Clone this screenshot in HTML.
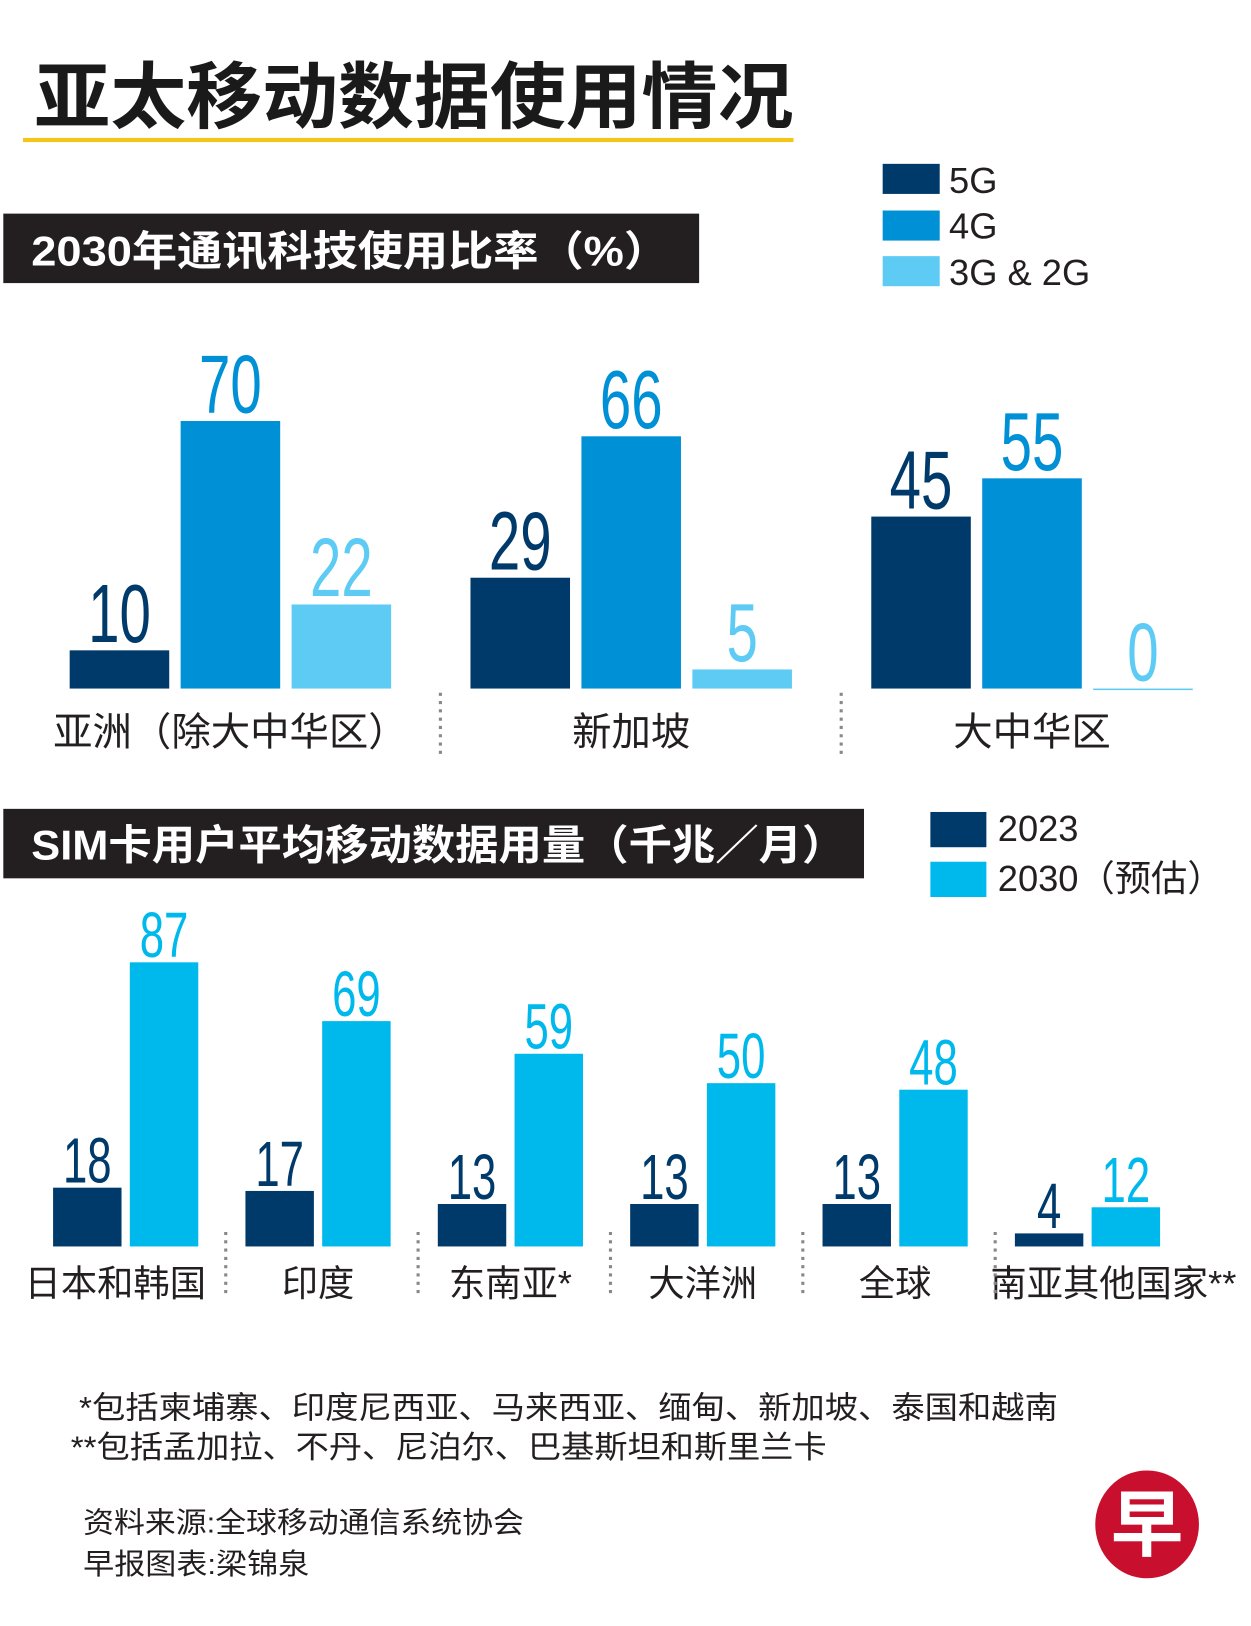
<!DOCTYPE html>
<html><head><meta charset="utf-8"><style>
html,body{margin:0;padding:0;background:#fff;}
svg{display:block;}
.cn{font-family:"Liberation Sans","Noto Sans CJK SC",sans-serif;}
.num{font-family:"Liberation Sans",sans-serif;}
</style></head><body>
<svg id="s" width="1251" height="1626" viewBox="0 0 1206 1568" xmlns="http://www.w3.org/2000/svg">
<rect width="1206" height="1568" fill="#fff"/>
<text x="33" y="118" class="cn" font-size="70" font-weight="bold" fill="#1a1a1a" textLength="732" lengthAdjust="spacingAndGlyphs">亚太移动数据使用情况</text>
<rect x="22" y="133" width="743" height="4" fill="#f5c518"/>
<rect x="3" y="206" width="671" height="67" fill="#231f20"/>
<text x="30" y="256" class="cn" font-size="40" font-weight="bold" fill="#fff" textLength="615" lengthAdjust="spacingAndGlyphs">2030年通讯科技使用比率（%）</text>
<g>
<rect x="851" y="158" width="55" height="29" fill="#003a6b"/>
<text x="915" y="186" class="cn" font-size="35" fill="#231f20">5G</text>
<rect x="851" y="203" width="55" height="29" fill="#0090d6"/>
<text x="915" y="230" class="cn" font-size="35" fill="#231f20">4G</text>
<rect x="851" y="247" width="55" height="29" fill="#5ecbf4"/>
<text x="915" y="275" class="cn" font-size="35" fill="#231f20">3G &amp; 2G</text>
</g>
<g id="c1"></g>
<rect x="3" y="780" width="830" height="67" fill="#231f20"/>
<text x="30" y="829" class="cn" font-size="40" font-weight="bold" fill="#fff" textLength="785" lengthAdjust="spacingAndGlyphs">SIM卡用户平均移动数据用量（千兆／月）</text>
<g>
<rect x="897" y="783" width="54" height="34" fill="#003a6b"/>
<text x="962" y="811" class="cn" font-size="35" fill="#231f20">2023</text>
<rect x="897" y="831" width="54" height="34" fill="#00b9ec"/>
<text x="962" y="859" class="cn" font-size="35" fill="#231f20">2030（预估）</text>
</g>
<g id="c2"></g>
<text x="76" y="1368" class="cn" font-size="30" fill="#231f20" textLength="944" lengthAdjust="spacingAndGlyphs">*包括柬埔寨、印度尼西亚、马来西亚、缅甸、新加坡、泰国和越南</text>
<text x="68" y="1406" class="cn" font-size="30" fill="#231f20" textLength="729" lengthAdjust="spacingAndGlyphs">**包括孟加拉、不丹、尼泊尔、巴基斯坦和斯里兰卡</text>
<text x="80" y="1478" class="cn" font-size="28" fill="#231f20" textLength="425" lengthAdjust="spacingAndGlyphs">资料来源:全球移动通信系统协会</text>
<text x="80" y="1518" class="cn" font-size="28" fill="#231f20" textLength="218" lengthAdjust="spacingAndGlyphs">早报图表:梁锦泉</text>
<g>
<ellipse cx="1106" cy="1470" rx="50" ry="52" fill="#c8102e"/>
<text x="1106" y="1495" text-anchor="middle" class="cn" font-size="70" font-weight="bold" fill="#fff">早</text>
</g>
</svg>
<script>
const NS='http://www.w3.org/2000/svg';
const c1Categories=['亚洲（除大中华区）','新加坡','大中华区'];
const c1Series5G=[10,29,45];
const c1Series4G=[70,66,55];
const c1Series3G=[22,5,0];
const c2Categories=['日本和韩国','印度','东南亚*','大洋洲','全球','南亚其他国家**'];
const c2Series2023=[18,17,13,13,13,4];
const c2Series2030=[87,69,59,50,48,12];

function mk(tag,attrs,parent,text){const e=document.createElementNS(NS,tag);for(const k in attrs)e.setAttribute(k,attrs[k]);if(text!==undefined)e.textContent=text;parent.appendChild(e);return e;}

// chart 1
const g1=document.getElementById('c1');
const base1=664, k1=258/70;
const y1=v=>base1-v*k1;
const groupX1=i=>67+i*386.5;
const series1=[[c1Series5G,'#003a6b','#003a6b','5g'],[c1Series4G,'#0090d6','#0090d6','4g'],[c1Series3G,'#5ecbf4','#5ecbf4','3g']];
c1Categories.forEach((cat,i)=>{
  series1.forEach((s,j)=>{
    const v=s[0][i];const x=groupX1(i)+j*107;
    const r=mk('rect',{x:x,y:y1(v),width:96,height:Math.max(v*k1,1.5),fill:s[1]},g1);
    
    
    const t=mk('text',{x:0,y:0,transform:'translate('+(x+48)+','+(y1(v)-8)+') scale(0.68,1)','text-anchor':'middle','class':'num','font-size':80,fill:s[2]},g1,String(v));
    
    
  });
  const l=mk('text',{x:groupX1(i)+155,y:719,'text-anchor':'middle','class':'cn','font-size':38,fill:'#231f20'},g1,cat);
  
  
  if(i>0){const d=mk('line',{x1:groupX1(i)-29,x2:groupX1(i)-29,y1:668,y2:728,stroke:'#888','stroke-width':3,'stroke-dasharray':'3 5'},g1);
  
  }
});

// chart 2
const g2=document.getElementById('c2');
const base2=1202, k2=274/87;
const y2=v=>base2-v*k2;
const groupX2=i=>51+i*185.5;
const series2=[[c2Series2023,'#003a6b','#003a6b','2023'],[c2Series2030,'#00b9ec','#00b9ec','2030']];
c2Categories.forEach((cat,i)=>{
  series2.forEach((s,j)=>{
    const v=s[0][i];const x=groupX2(i)+j*74;
    const r=mk('rect',{x:x,y:y2(v),width:66,height:v*k2,fill:s[1]},g2);
    
    
    const t=mk('text',{x:0,y:0,transform:'translate('+(x+33)+','+(y2(v)-5)+') scale(0.68,1)','text-anchor':'middle','class':'num','font-size':62,fill:s[2]},g2,String(v));
    
    
  });
  const l=mk('text',{x:groupX2(i)+(i==0?60:i==5?95:70),y:1250,'text-anchor':'middle','class':'cn','font-size':35,fill:'#231f20'},g2,cat);
  
  
  if(i>0){const d=mk('line',{x1:groupX2(i)-19,x2:groupX2(i)-19,y1:1188,y2:1250,stroke:'#888','stroke-width':3,'stroke-dasharray':'3 5'},g2);
  
  }
});
</script>
</body></html>
